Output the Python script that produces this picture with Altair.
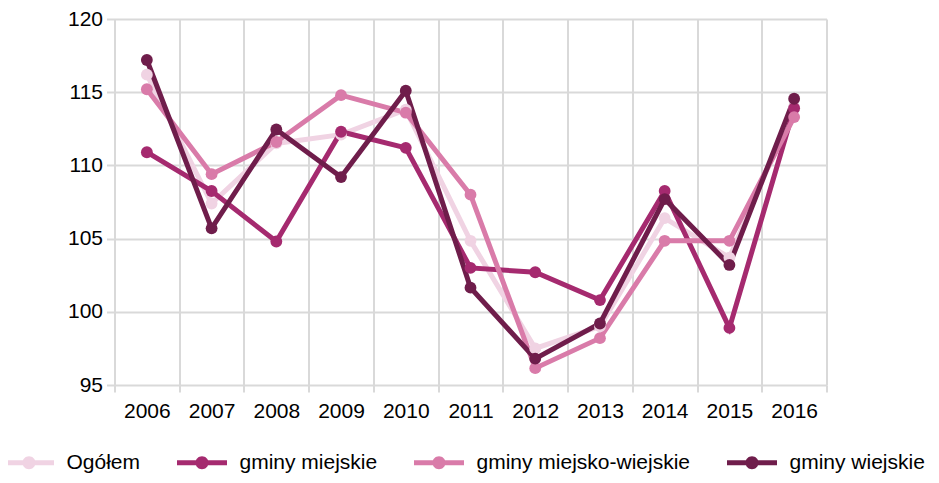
import altair as alt
import pandas as pd

years = [str(y) for y in range(2006, 2017)]
series_names = ["Ogółem", "gminy miejskie", "gminy miejsko-wiejskie", "gminy wiejskie"]
colors = ["#f0d3e3", "#a52a6f", "#d97ba9", "#6f1d4b"]

ogolem = [116.2, 107.4, 111.5, 112.1, 113.8, 104.85, 97.5, 99.0, 106.4, 103.7, 114.0]
miejskie = [110.9, 108.25, 104.8, 112.3, 111.2, 103.0, 102.7, 100.8, 108.25, 98.9, 113.9]
miejsko_wiejskie = [115.2, 109.4, 111.6, 114.8, 113.6, 108.0, 96.15, 98.2, 104.85, 104.85, 113.3]
wiejskie = [117.2, 105.7, 112.45, 109.2, 115.1, 101.65, 96.8, 99.2, 107.7, 103.2, 114.55]

rows = []
for i, (name, vals) in enumerate(zip(series_names, [ogolem, miejskie, miejsko_wiejskie, wiejskie])):
    for y, v in zip(years, vals):
        rows.append({"rok": y, "wartosc": v, "seria": name, "kolejnosc": i})
df = pd.DataFrame(rows)

FONT = "Liberation Sans"
GRID = "#d9d9d9"

# symbol drawn twice as wide as its nominal size: a line with a dot in the middle
legend_path = ("M-2,-0.2 L2,-0.2 L2,0.2 L-2,0.2 Z "
               "M-0.52,0 A0.52,0.52 0 1,1 0.52,0 A0.52,0.52 0 1,1 -0.52,0 Z")

x = alt.X("rok:N", title=None, sort=years,
          scale=alt.Scale(paddingInner=0, paddingOuter=0),
          axis=alt.Axis(tickBand="extent", domain=False, grid=True, gridColor=GRID,
                        gridWidth=2, tickColor=GRID, tickWidth=2, tickSize=7,
                        labelPadding=8, labelAngle=0, labelFont=FONT, labelFontSize=21,
                        labelColor="#000000"))
y = alt.Y("wartosc:Q", title=None,
          scale=alt.Scale(domain=[95, 120], nice=False, zero=False),
          axis=alt.Axis(values=[95, 100, 105, 110, 115, 120], domain=False, grid=True,
                        gridColor=GRID, gridWidth=2, tickColor=GRID, tickWidth=2,
                        tickSize=8, labelPadding=4, labelFont=FONT, labelFontSize=21,
                        labelColor="#000000"))

color_scale = alt.Scale(domain=series_names, range=colors)

lines = alt.Chart(df).mark_line(strokeWidth=5).encode(
    x=x, y=y,
    color=alt.Color("seria:N", scale=color_scale, sort=series_names),
    order=alt.Order("kolejnosc:Q"),
)

points = alt.Chart(df).mark_circle(size=140, opacity=1).encode(
    x=x, y=y,
    color=alt.Color("seria:N", scale=color_scale, sort=series_names),
)

chart = alt.layer(lines, points).properties(
    width=712, height=366,
    autosize=alt.AutoSizeParams(type="none"),
    padding={"left": 106.5, "top": 11, "right": 104, "bottom": 90},
).configure_view(stroke=None).configure_legend(
    orient="none", direction="horizontal", legendX=-98, legendY=431, padding=0,
    title=None, symbolType=legend_path, symbolSize=625, symbolStrokeWidth=0,
    symbolOpacity=1, symbolFillColor="#888888",
    labelFont=FONT, labelFontSize=21, labelColor="#000000", labelOffset=25,
    columnPadding=36, labelLimit=400,
)

chart.save("out.html", embed_options={"renderer": "svg", "actions": False})
